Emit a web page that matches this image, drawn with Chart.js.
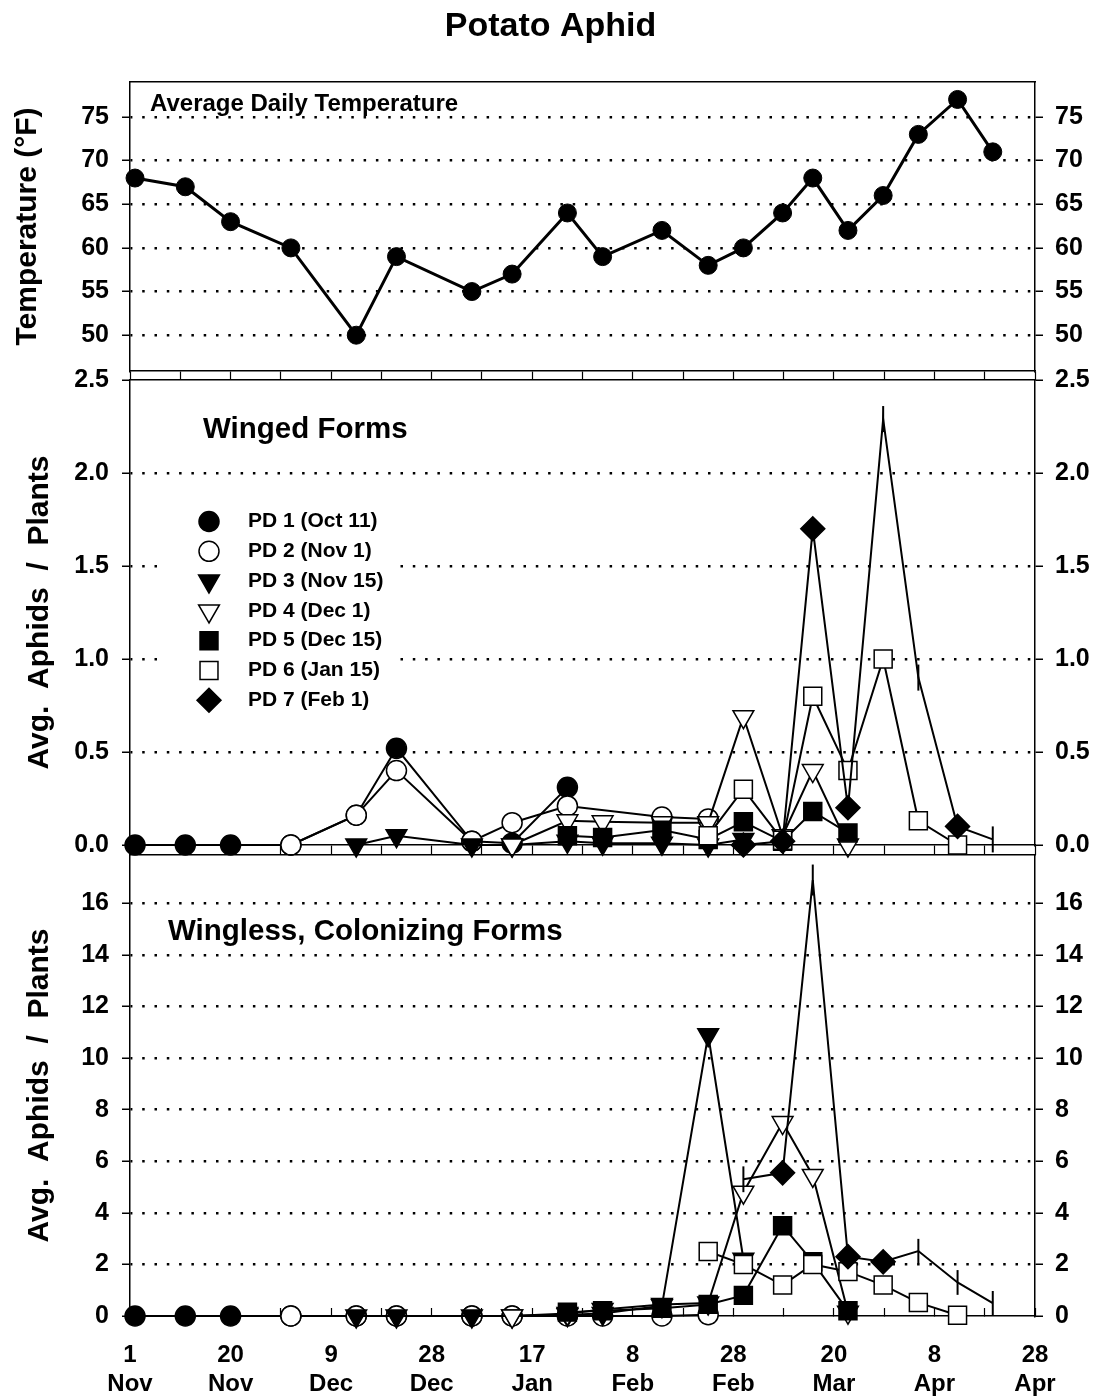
<!DOCTYPE html>
<html>
<head>
<meta charset="utf-8">
<title>Potato Aphid</title>
<script src="https://cdn.jsdelivr.net/npm/chart.js@4.4.1/dist/chart.umd.min.js"></script>
<style>
  html, body { margin: 0; padding: 0; background: #fff; }
  #wrap { position: relative; width: 1101px; height: 1400px; }
  canvas { position: absolute; left: 0; top: 0; }
</style>
</head>
<body>
<div id="wrap">
  <canvas id="cTemp" width="1101" height="1400"></canvas>
  <canvas id="cWinged" width="1101" height="1400"></canvas>
  <canvas id="cWingless" width="1101" height="1400"></canvas>
</div>
<script>
// ---------------- DATA ----------------
// x-axis tick labels (one unit on the x axis = one labelled interval)
const tickDays   = ["1", "20", "9", "28", "17", "8", "28", "20", "8", "28"];
const tickMonths = ["Nov", "Nov", "Dec", "Dec", "Jan", "Feb", "Feb", "Mar", "Apr", "Apr"];

// sampling dates, as positions on the x axis
const sampleX = [0.05, 0.55, 1.0, 1.6, 2.25, 2.65, 3.4, 3.8, 4.35, 4.7,
                 5.29, 5.75, 6.1, 6.49, 6.79, 7.14, 7.49, 7.84, 8.23, 8.58];

// average daily temperature (F)
const tempF = [68, 67, 63, 60, 50, 59, 55, 57, 64, 59, 62, 58, 60, 64, 68, 62, 66, 73, 77, 71];

const pdLabels = ["PD 1 (Oct 11)", "PD 2 (Nov 1)", "PD 3 (Nov 15)", "PD 4 (Dec 1)",
                  "PD 5 (Dec 15)", "PD 6 (Jan 15)", "PD 7 (Feb 1)"];

const N = null;
// winged forms, avg aphids / plant
const pd1Winged = [0, 0, 0, 0, 0.16, 0.52, 0.02, 0.01, 0.31, N, N, N, N, N, N, N, N, N, N, N];
const pd2Winged = [N, N, N, 0, 0.16, 0.40, 0.02, 0.12, 0.21, N, 0.15, 0.14, N, N, N, N, N, N, N, N];
const pd3Winged = [N, N, N, N, 0, 0.05, 0, 0, 0.02, 0.01, 0.01, 0, 0.03, N, N, N, N, N, N, N];
const pd4Winged = [N, N, N, N, N, N, N, 0, 0.13, 0.125, 0.12, 0.12, 0.69, 0.05, 0.40, 0.0, N, N, N, N];
const pd5Winged = [N, N, N, N, N, N, N, N, 0.05, 0.04, 0.08, 0.03, 0.125, 0.02, 0.18, 0.065, N, N, N, N];
const pd6Winged = [N, N, N, N, N, N, N, N, N, N, N, 0.05, 0.30, 0.025, 0.80, 0.40, 1.00, 0.13, 0.0, N];
const pd7Winged = [N, N, N, N, N, N, N, N, N, N, N, N, 0.0, 0.02, 1.70, 0.20, 2.29, 0.90, 0.10, 0.03];
const pd7WingedErr  = [N, N, N, N, N, N, N, N, N, N, N, N, N, 0.06, N, N, 0.07, 0.07, N, 0.07];
const pd7WingedMark = [N, N, N, N, N, N, N, N, N, N, N, N, 1, 1, 1, 1, 0, 0, 1, 0];

// wingless, colonizing forms, avg aphids / plant
const pd1Wingless = [0, 0, 0, 0, 0, 0, 0, 0, 0.03, N, N, N, N, N, N, N, N, N, N, N];
const pd2Wingless = [N, N, N, 0, 0, 0, 0, 0, 0, 0, 0, 0.05, N, N, N, N, N, N, N, N];
const pd3Wingless = [N, N, N, N, 0, 0, 0, 0, 0.05, 0.1, 0.4, 10.9, 2.2, N, N, N, N, N, N, N];
const pd4Wingless = [N, N, N, N, N, N, N, 0, 0.1, 0.25, 0.45, 0.5, 4.8, 7.5, 5.45, 0.15, N, N, N, N];
const pd5Wingless = [N, N, N, N, N, N, N, N, 0.15, 0.2, 0.3, 0.45, 0.8, 3.5, 2.1, 0.2, N, N, N, N];
const pd6Wingless = [N, N, N, N, N, N, N, N, N, N, N, 2.5, 2.0, 1.2, 2.0, 1.72, 1.2, 0.52, 0.03, N];
const pd7Wingless = [N, N, N, N, N, N, N, N, N, N, N, N, 5.3, 5.55, 16.9, 2.3, 2.1, 2.52, 1.3, 0.5];
const pd7WinglessErr  = [N, N, N, N, N, N, N, N, N, N, N, N, 0.5, N, 0.6, N, N, 0.47, 0.48, 0.47];
const pd7WinglessMark = [N, N, N, N, N, N, N, N, N, N, N, N, 0, 1, 0, 1, 1, 0, 0, 0];

// y tick values
const tempTicks     = [50, 55, 60, 65, 70, 75];
const wingedTicks   = [0, 0.5, 1.0, 1.5, 2.0, 2.5];
const winglessTicks = [0, 2, 4, 6, 8, 10, 12, 14, 16];

// ---------------- STYLE / LAYOUT ----------------
const FONT = '"Liberation Sans", Arial, Helvetica, sans-serif';
Chart.defaults.font.family = FONT;
Chart.defaults.color = '#000';
const W = 1101, H = 1400;
const PLOT_LEFT = 130, PLOT_RIGHT = 1035;

const STYLES = [
  { pointStyle: 'circle',   fill: '#000', r: 10,   rot: 0 },
  { pointStyle: 'circle',   fill: '#fff', r: 10,   rot: 0 },
  { pointStyle: 'triangle', fill: '#000', r: 12,   rot: 180 },
  { pointStyle: 'triangle', fill: '#fff', r: 12,   rot: 180 },
  { pointStyle: 'rect',     fill: '#000', r: 12.7, rot: 0 },
  { pointStyle: 'rect',     fill: '#fff', r: 12.7, rot: 0 },
  { pointStyle: 'rectRot',  fill: '#000', r: 12,   rot: 0 }
];

const xTickValues = [];
for (let i = 0; i < tickDays.length; i++) {
  xTickValues.push(i);
  if (i < tickDays.length - 1) xTickValues.push(i + 0.5);
}

function xLabel(v) {
  const k = Math.round(v);
  if (Math.abs(v - k) > 1e-6) return '';
  return [tickDays[k], tickMonths[k]];
}

function xBottom(tickLen, showLabels, boxH, labelPad) {
  return {
    type: 'linear', position: 'bottom', min: 0, max: tickDays.length - 1,
    afterBuildTicks: s => { s.ticks = xTickValues.map(v => ({ value: v })); },
    afterFit: s => { s.height = boxH; },
    ticks: {
      display: showLabels, autoSkip: false, maxRotation: 0, minRotation: 0,
      padding: labelPad, color: '#000',
      font: { size: 24, weight: 'bold', lineHeight: 1.2 },
      callback: v => xLabel(v)
    },
    grid: { drawOnChartArea: false, tickLength: tickLen, tickColor: '#000', tickWidth: 1.2, color: '#000' },
    border: { display: true, color: '#000', width: 1.5 }
  };
}

function xTop() {
  return {
    type: 'linear', position: 'top', min: 0, max: tickDays.length - 1,
    afterFit: s => { s.height = 0; },
    ticks: { display: false },
    grid: { display: false, drawTicks: false },
    border: { display: true, color: '#000', width: 1.5 }
  };
}

function yAxis(side, min, max, ticks, fmt, title, titlePad) {
  const left = side === 'left';
  return {
    type: 'linear', position: side, min: min, max: max,
    afterBuildTicks: s => { s.ticks = ticks.map(v => ({ value: v })); },
    afterFit: s => { s.width = left ? PLOT_LEFT : (W - PLOT_RIGHT); },
    ticks: {
      color: '#000', padding: left ? 13 : 12,
      font: { size: 25, weight: 'bold' },
      callback: v => fmt(v)
    },
    grid: {
      drawOnChartArea: left,
      color: c => (c.tick && c.tick.value > min && c.tick.value < max) ? '#000' : 'rgba(0,0,0,0)',
      lineWidth: 2.5,
      tickColor: '#000', tickWidth: 1.5, tickLength: 8
    },
    border: { display: true, color: '#000', width: 1.5, dash: [2.5, 9.8], dashOffset: 0.6 },
    title: {
      display: left && !!title, text: title || '', color: '#000',
      font: { size: 30, weight: 'bold', lineHeight: 1.2 },
      padding: { top: titlePad || 0, bottom: 0 }
    }
  };
}

function mkSeries(k, vals, marks, errs) {
  const st = STYLES[k];
  const pts = [];
  vals.forEach((v, i) => { if (v !== null) pts.push({ x: sampleX[i], y: v, i: i }); });
  return {
    label: pdLabels[k], data: pts, xAxisID: 'x', yAxisID: 'y',
    borderColor: '#000', borderWidth: 2, fill: false, tension: 0, clip: false,
    order: 7 - k,
    pointStyle: st.pointStyle, pointRotation: st.rot,
    pointRadius: marks ? (c => (c.raw && marks[c.raw.i] === 0) ? 0 : st.r) : st.r,
    pointHoverRadius: 0,
    pointBackgroundColor: st.fill, pointBorderColor: '#000', pointBorderWidth: 1.5,
    errs: errs || null
  };
}

const errorBars = {
  id: 'errorBars',
  afterDatasetsDraw(chart) {
    const ctx = chart.ctx;
    chart.data.datasets.forEach((ds, di) => {
      if (!ds.errs) return;
      const meta = chart.getDatasetMeta(di);
      const ys = chart.scales[ds.yAxisID];
      ctx.save();
      ctx.strokeStyle = '#000';
      ctx.lineWidth = 2;
      meta.data.forEach((el, j) => {
        const p = ds.data[j];
        const e = ds.errs[p.i];
        if (e === null || e === undefined) return;
        ctx.beginPath();
        ctx.moveTo(el.x, ys.getPixelForValue(p.y - e));
        ctx.lineTo(el.x, ys.getPixelForValue(p.y + e));
        ctx.stroke();
      });
      ctx.restore();
    });
  }
};

function heading(text, x, y, size) {
  return {
    id: 'heading',
    afterDraw(chart) {
      const ctx = chart.ctx;
      ctx.save();
      ctx.fillStyle = '#000';
      ctx.font = 'bold ' + size + 'px ' + FONT;
      ctx.textAlign = 'left';
      ctx.textBaseline = 'middle';
      ctx.fillText(text, x, y);
      ctx.restore();
    }
  };
}

const pdLegend = {
  id: 'pdLegend',
  afterDraw(chart) {
    const ctx = chart.ctx;
    ctx.save();
    ctx.fillStyle = '#fff';
    ctx.fillRect(160, 505, 235, 212);
    pdLabels.forEach((lab, k) => {
      const st = STYLES[k];
      const y = 521.5 + k * 29.8;
      ctx.fillStyle = st.fill;
      ctx.strokeStyle = '#000';
      ctx.lineWidth = 1.5;
      Chart.helpers.drawPoint(ctx, { pointStyle: st.pointStyle, radius: st.r, rotation: st.rot, borderWidth: 1.5 }, 209, y);
      ctx.fillStyle = '#000';
      ctx.font = 'bold 21px ' + FONT;
      ctx.textAlign = 'left';
      ctx.textBaseline = 'middle';
      ctx.fillText(lab, 248, y);
    });
    ctx.restore();
  }
};

const baseOpts = {
  responsive: false, animation: false, events: [], devicePixelRatio: 1
};

// ---------------- TOP: temperature ----------------
new Chart(document.getElementById('cTemp'), {
  type: 'line',
  data: {
    datasets: [{
      label: 'Average Daily Temperature',
      data: tempF.map((v, i) => ({ x: sampleX[i], y: v })),
      xAxisID: 'x', yAxisID: 'y',
      borderColor: '#000', borderWidth: 3, fill: false, tension: 0, clip: false,
      pointStyle: 'circle', pointRadius: 9, pointHoverRadius: 0,
      pointBackgroundColor: '#000', pointBorderColor: '#000', pointBorderWidth: 1
    }]
  },
  options: Object.assign({}, baseOpts, {
    layout: { padding: { top: 0, left: 0, right: 0, bottom: H - 380 } },
    plugins: {
      legend: { display: false }, tooltip: { enabled: false },
      title: {
        display: true, text: 'Potato Aphid', color: '#000',
        font: { size: 34, weight: 'bold', lineHeight: 1.2 },
        padding: { top: 6, bottom: 35.2 }
      }
    },
    scales: {
      x: xBottom(9, false, 9, 0),
      xTop: xTop(),
      y: yAxis('left', 45.9, 79, tempTicks, v => String(v), 'Temperature (°F)', 10),
      yR: yAxis('right', 45.9, 79, tempTicks, v => String(v))
    }
  }),
  plugins: [heading('Average Daily Temperature', 150, 104, 24)]
});

// ---------------- MIDDLE: winged forms ----------------
new Chart(document.getElementById('cWinged'), {
  type: 'line',
  data: {
    datasets: [
      mkSeries(0, pd1Winged),
      mkSeries(1, pd2Winged),
      mkSeries(2, pd3Winged),
      mkSeries(3, pd4Winged),
      mkSeries(4, pd5Winged),
      mkSeries(5, pd6Winged),
      mkSeries(6, pd7Winged, pd7WingedMark, pd7WingedErr)
    ]
  },
  options: Object.assign({}, baseOpts, {
    layout: { padding: { top: 380, left: 0, right: 0, bottom: H - 855 } },
    plugins: { legend: { display: false }, tooltip: { enabled: false } },
    scales: {
      x: xBottom(10, false, 10, 0),
      xTop: xTop(),
      y: yAxis('left', 0, 2.5, wingedTicks, v => v.toFixed(1), 'Avg.  Aphids  /  Plants', 22),
      yR: yAxis('right', 0, 2.5, wingedTicks, v => v.toFixed(1))
    }
  }),
  plugins: [errorBars, pdLegend, heading('Winged Forms', 203, 430, 29.5)]
});

// ---------------- BOTTOM: wingless forms ----------------
new Chart(document.getElementById('cWingless'), {
  type: 'line',
  data: {
    datasets: [
      mkSeries(0, pd1Wingless),
      mkSeries(1, pd2Wingless),
      mkSeries(2, pd3Wingless),
      mkSeries(3, pd4Wingless),
      mkSeries(4, pd5Wingless),
      mkSeries(5, pd6Wingless),
      mkSeries(6, pd7Wingless, pd7WinglessMark, pd7WinglessErr)
    ]
  },
  options: Object.assign({}, baseOpts, {
    layout: { padding: { top: 855, left: 0, right: 0, bottom: 0 } },
    plugins: { legend: { display: false }, tooltip: { enabled: false } },
    scales: {
      x: xBottom(-8, true, 84, 33),
      xTop: xTop(),
      y: yAxis('left', 0, 17.87, winglessTicks, v => String(v), 'Avg.  Aphids  /  Plants', 22),
      yR: yAxis('right', 0, 17.87, winglessTicks, v => String(v))
    }
  }),
  plugins: [errorBars, heading('Wingless, Colonizing Forms', 168, 932, 29.5)]
});
</script>
</body>
</html>
